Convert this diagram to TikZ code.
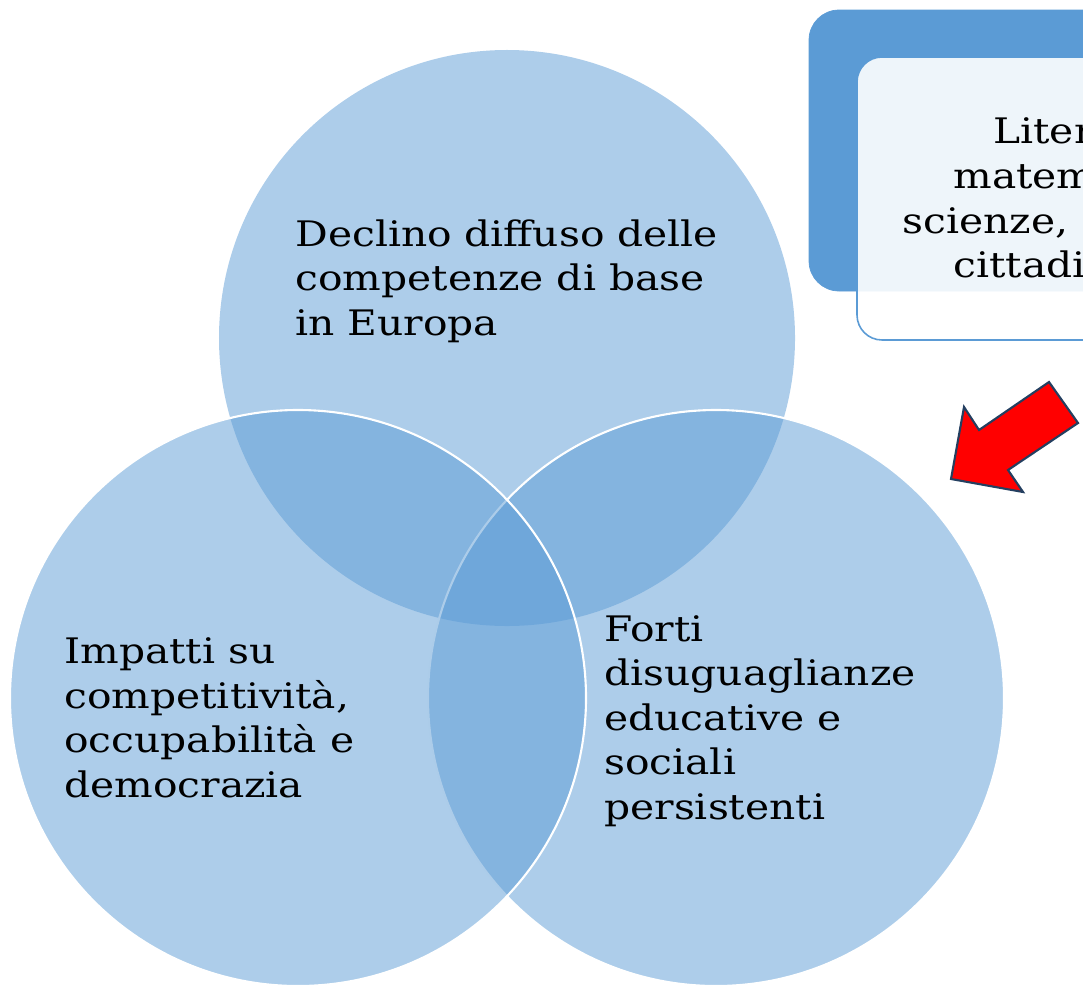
\documentclass[tikz,border=0pt]{standalone}
\usepackage{fontspec}
\setmainfont{DejaVu Serif}[FakeStretch=1.16]
\usepackage{tikz}
\definecolor{vennblue}{HTML}{5B9BD5}
\definecolor{arrowred}{HTML}{FF0000}
\definecolor{arrowedge}{HTML}{243F60}

\begin{document}
\begin{tikzpicture}[
		x=0.2mm, y=-0.2mm,
		venn/.style={circle, minimum size=115.2mm, inner sep=0pt,
			fill=vennblue, fill opacity=0.5},
		venntext/.style={anchor=base west, align=left, inner sep=0pt,
			font=\fontsize{20}{25.3}\selectfont},
	]
	\useasboundingbox (0,0) rectangle (1083,987);
	\clip (0,0) rectangle (1083,987);

	% card in the corner, cut by the page edge
	\draw[fill=vennblue, draw=vennblue, rounded corners=6mm]
		(809,10) rectangle (1140,291);
	\draw[fill=white, fill opacity=0.9, draw=vennblue, line width=0.9pt,
		rounded corners=5mm]
		(857,57) rectangle (1140,340);
	\foreach \txt/\xx/\yy [count=\i] in
		{Liter/993/143, matem/953/188, {scienze, d}/902/233, cittadi/953/277}
		\node[venntext] (card\i) at (\xx,\yy) {\txt};

	% the three circles
	\node[venn] (topcirc) at (507,338) {};
	\node[venn, draw=white, line width=1.2pt] (rightcirc) at (716,698) {};
	\node[venn, draw=white, line width=1.2pt] (leftcirc) at (298,698) {};

	% base = last line
	\node[venntext] (toptext) at (295,335)
		{Declino diffuso delle\\competenze di base\\in Europa};
	\node[venntext] (lefttext) at (64,797)
		{Impatti su\\competitività,\\occupabilità e\\democrazia};
	\node[venntext] (righttext) at (604,819)
		{Forti\\disuguaglianze\\educative e\\sociali\\persistenti};

	% red arrow
	\draw[fill=arrowred, draw=arrowedge, line width=1.2pt]
		(951,479) -- (964,407) -- (979,430) -- (1049,382) -- (1078,423)
		-- (1008,470) -- (1023,492) -- cycle;
\end{tikzpicture}
\end{document}
